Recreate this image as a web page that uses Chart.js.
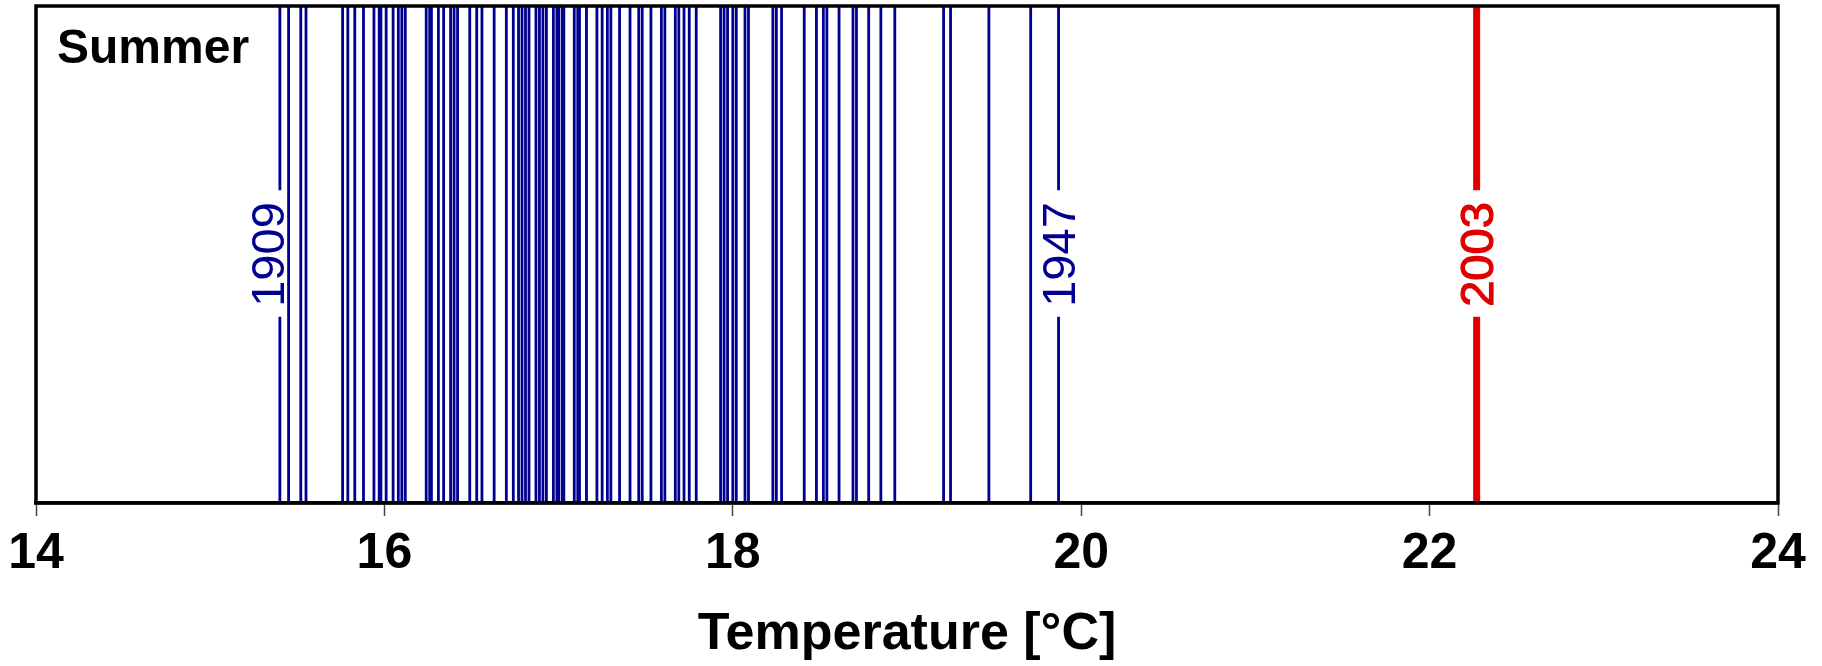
<!DOCTYPE html>
<html>
<head>
<meta charset="utf-8">
<script src="https://cdn.jsdelivr.net/npm/chart.js@4.4.0/dist/chart.umd.min.js"></script>
<style>
  html, body { margin: 0; padding: 0; background: #fff; }
  #wrap { width: 1822px; height: 666px; position: relative; }
</style>
</head>
<body>
<div id="wrap"><canvas id="c" width="1822" height="666"></canvas></div>
<script>
// Summer mean temperatures (°C), one line per year
const summerTemps = [
  15.40, 15.45, 15.52, 15.55, 15.76, 15.79, 15.83, 15.88, 15.94, 15.97,
  15.98, 16.01, 16.05, 16.08, 16.10, 16.12, 16.24, 16.26, 16.27, 16.31,
  16.34, 16.38, 16.40, 16.42, 16.49, 16.53, 16.56, 16.63, 16.70, 16.74,
  16.77, 16.79, 16.81, 16.83, 16.87, 16.89, 16.91, 16.93, 16.97, 16.99,
  17.00, 17.02, 17.03, 17.09, 17.11, 17.12, 17.16, 17.22, 17.25, 17.28,
  17.30, 17.35, 17.41, 17.46, 17.48, 17.53, 17.59, 17.61, 17.67, 17.69,
  17.72, 17.75, 17.79, 17.93, 17.95, 17.97, 18.00, 18.02, 18.07, 18.09,
  18.23, 18.25, 18.28, 18.41, 18.48, 18.52, 18.54, 18.61, 18.69, 18.71,
  18.78, 18.85, 18.93, 19.21, 19.25, 19.47, 19.71, 19.87
];
const recordTemps = [22.27];          // summer 2003
const labelYears  = ['1909', '1947', '2003'];
const labelTemps  = [15.40, 19.87, 22.27];
const xTicks      = [14, 16, 18, 20, 22, 24];

const BLUE = '#000091';
const RED  = '#e00000';

function toVLines(temps) {
  const pts = [];
  temps.forEach(t => { pts.push({x: t, y: 0}, {x: t, y: 1}, {x: t, y: null}); });
  return pts;
}

const labelPlugin = {
  id: 'labelPlugin',
  afterDatasetsDraw(chart, args, opts) {
    const {ctx, chartArea, scales} = chart;
    ctx.save();
    const size = 47;
    ctx.font = `${size}px "Liberation Sans", Arial, sans-serif`;
    labelYears.forEach((txt, i) => {
      const isRecord = labelTemps[i] === recordTemps[0];
      const cx = scales.x.getPixelForValue(labelTemps[i]) + (opts.offsets[i] || 0);
      const cy = scales.y.getPixelForValue(0.5);
      const len = ctx.measureText(txt).width;
      ctx.fillStyle = '#fff';
      ctx.fillRect(cx - 19, cy - len / 2 - 12, 38, len + 22);
      ctx.translate(cx, cy);
      ctx.rotate(-Math.PI / 2);
      ctx.fillStyle = isRecord ? RED : BLUE;
      ctx.textAlign = 'center';
      ctx.textBaseline = 'alphabetic';
      ctx.fillText(txt, 0, 0.358 * size);
      if (isRecord) {
        ctx.strokeStyle = RED;
        ctx.lineWidth = 1.2;
        ctx.strokeText(txt, 0, 0.358 * size);
      }
      ctx.setTransform(1, 0, 0, 1, 0, 0);
    });
    // Season label
    ctx.fillStyle = '#000';
    ctx.font = 'bold 48px "Liberation Sans", Arial, sans-serif';
    ctx.textAlign = 'left';
    ctx.textBaseline = 'alphabetic';
    ctx.fillText('Summer', chartArea.left + 21, chartArea.top + 57);
    // Frame
    ctx.strokeStyle = '#000';
    ctx.lineWidth = 3.5;
    ctx.strokeRect(chartArea.left, chartArea.top, chartArea.right - chartArea.left, chartArea.bottom - chartArea.top);
    ctx.restore();
  }
};

new Chart(document.getElementById('c'), {
  type: 'line',
  data: {
    datasets: [
      { data: toVLines(summerTemps), borderColor: BLUE, borderWidth: 2.8, pointRadius: 0, spanGaps: false, fill: false },
      { data: toVLines(recordTemps), borderColor: RED, borderWidth: 7, pointRadius: 0, spanGaps: false, fill: false }
    ]
  },
  options: {
    responsive: false,
    animation: false,
    events: [],
    layout: { padding: { left: 36, right: 44, top: 6, bottom: 0 } },
    plugins: {
      legend: { display: false },
      tooltip: { enabled: false },
      labelPlugin: { offsets: [-13, 0, 0] }
    },
    scales: {
      x: {
        type: 'linear',
        min: 14, max: 24,
        afterBuildTicks(scale) { scale.ticks = xTicks.map(v => ({value: v})); },
        afterFit(scale) { scale.height = 163; },
        ticks: {
          color: '#000',
          padding: 8,
          maxRotation: 0,
          font: { family: '"Liberation Sans", Arial, sans-serif', weight: 'bold', size: 50 }
        },
        grid: { display: true, drawOnChartArea: false, drawTicks: true, tickLength: 13, tickColor: '#444', tickWidth: 1.5 },
        border: { display: true, color: '#000', width: 3.5 },
        title: {
          display: true,
          text: 'Temperature [°C]',
          color: '#000',
          padding: { top: 0, bottom: 0 },
          font: { family: '"Liberation Sans", Arial, sans-serif', weight: 'bold', size: 52 }
        }
      },
      y: { display: false, min: 0, max: 1 }
    }
  },
  plugins: [labelPlugin]
});
</script>
</body>
</html>
